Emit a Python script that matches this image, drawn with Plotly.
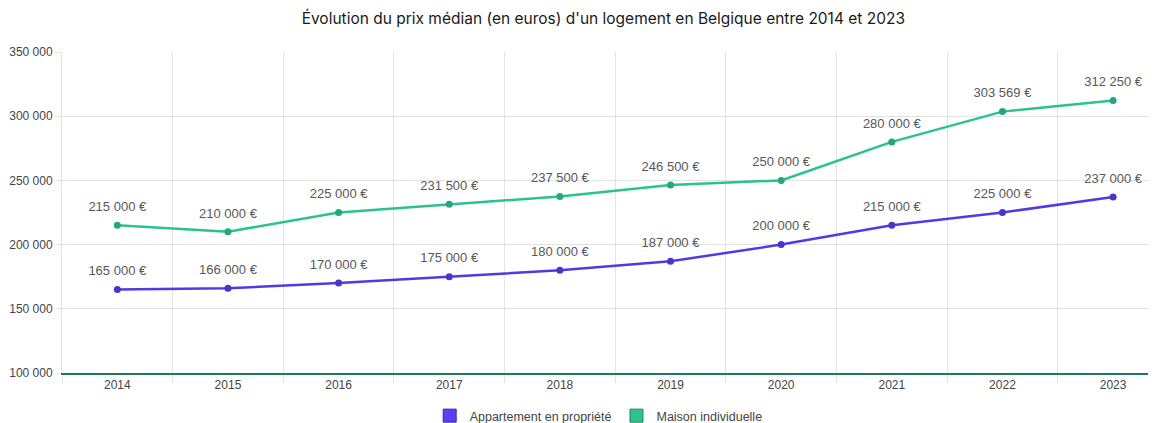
import plotly.graph_objects as go

years = ["2014", "2015", "2016", "2017", "2018", "2019", "2020", "2021", "2022", "2023"]
appartement = [165000, 166000, 170000, 175000, 180000, 187000, 200000, 215000, 225000, 237000]
maison = [215000, 210000, 225000, 231500, 237500, 246500, 250000, 280000, 303569, 312250]
y_ticks = [100000, 150000, 200000, 250000, 300000, 350000]

PURPLE = "#5637e6"
GREEN = "#29c38b"

def fmt(v):
    return f"{v:,}".replace(",", " ") + " €"

LABEL_FONT = dict(family="Liberation Sans, Arial", size=13, color="#585858")

fig = go.Figure()
fig.add_trace(go.Scatter(x=years, y=appartement, name="Appartement en propriété",
                         mode="lines+markers", line=dict(color=PURPLE, width=2.5),
                         marker=dict(color="#4b34c8", size=7), showlegend=False))
fig.add_trace(go.Scatter(x=years, y=maison, name="Maison individuelle",
                         mode="lines+markers", line=dict(color=GREEN, width=2.5),
                         marker=dict(color="#25a777", size=7), showlegend=False))
# data labels
for series in (appartement, maison):
    fig.add_trace(go.Scatter(x=years, y=series, mode="markers+text", showlegend=False,
                             marker=dict(size=16, opacity=0), hoverinfo="skip",
                             text=[fmt(v) for v in series], textposition="top center",
                             textfont=LABEL_FONT, cliponaxis=False))
# legend swatches (squares)
fig.add_trace(go.Scatter(x=[None], y=[None], name="Appartement en propriété", mode="markers",
                         marker=dict(symbol="square", size=13, color="#5a3ff5",
                                     line=dict(color="#3a2aa0", width=1))))
fig.add_trace(go.Scatter(x=[None], y=[None], name="Maison individuelle", mode="markers",
                         marker=dict(symbol="square", size=13, color="#2fc28c",
                                     line=dict(color="#1f8a62", width=1))))

fig.update_layout(
    template="none",
    width=1156, height=423,
    margin=dict(l=54, r=0, t=44, b=57),
    paper_bgcolor="white", plot_bgcolor="white",
    separators=", ",
    title=dict(text="Évolution du prix médian (en euros) d'un logement en Belgique entre 2014 et 2023",
               x=0.515, xanchor="center", y=0.974, yanchor="middle",
               font=dict(family="Inter", size=15.5, color="#1a1a1a")),
    legend=dict(orientation="h", x=0.487, xanchor="center", y=-0.134, yanchor="middle",
                font=dict(family="Liberation Sans, Arial", size=12.5, color="#444444"),
                itemwidth=30, bgcolor="rgba(0,0,0,0)"),
    font=dict(family="Liberation Sans, Arial"),
)
fig.update_xaxes(type="category", range=[-0.5, 9.46], tickson="boundaries", automargin=False,
                 showgrid=True, gridcolor="#e3e3e3", gridwidth=1,
                 ticks="outside", ticklen=8, tickcolor="#e3e3e3",
                 showline=True, linecolor="#1c7a58", linewidth=2,
                 tickfont=dict(family="Liberation Sans, Arial", size=12, color="#444444"),
                 zeroline=False)
fig.update_yaxes(range=[100000, 350000], tickvals=y_ticks, tickformat=",d", automargin=False,
                 showgrid=True, gridcolor="#e3e3e3", gridwidth=1,
                 ticks="outside", ticklen=6, tickcolor="#e3e3e3",
                 showline=True, linecolor="#e3e3e3", linewidth=1,
                 tickfont=dict(family="Liberation Sans, Arial", size=12, color="#444444"),
                 zeroline=False)

fig.write_html("out.html")
